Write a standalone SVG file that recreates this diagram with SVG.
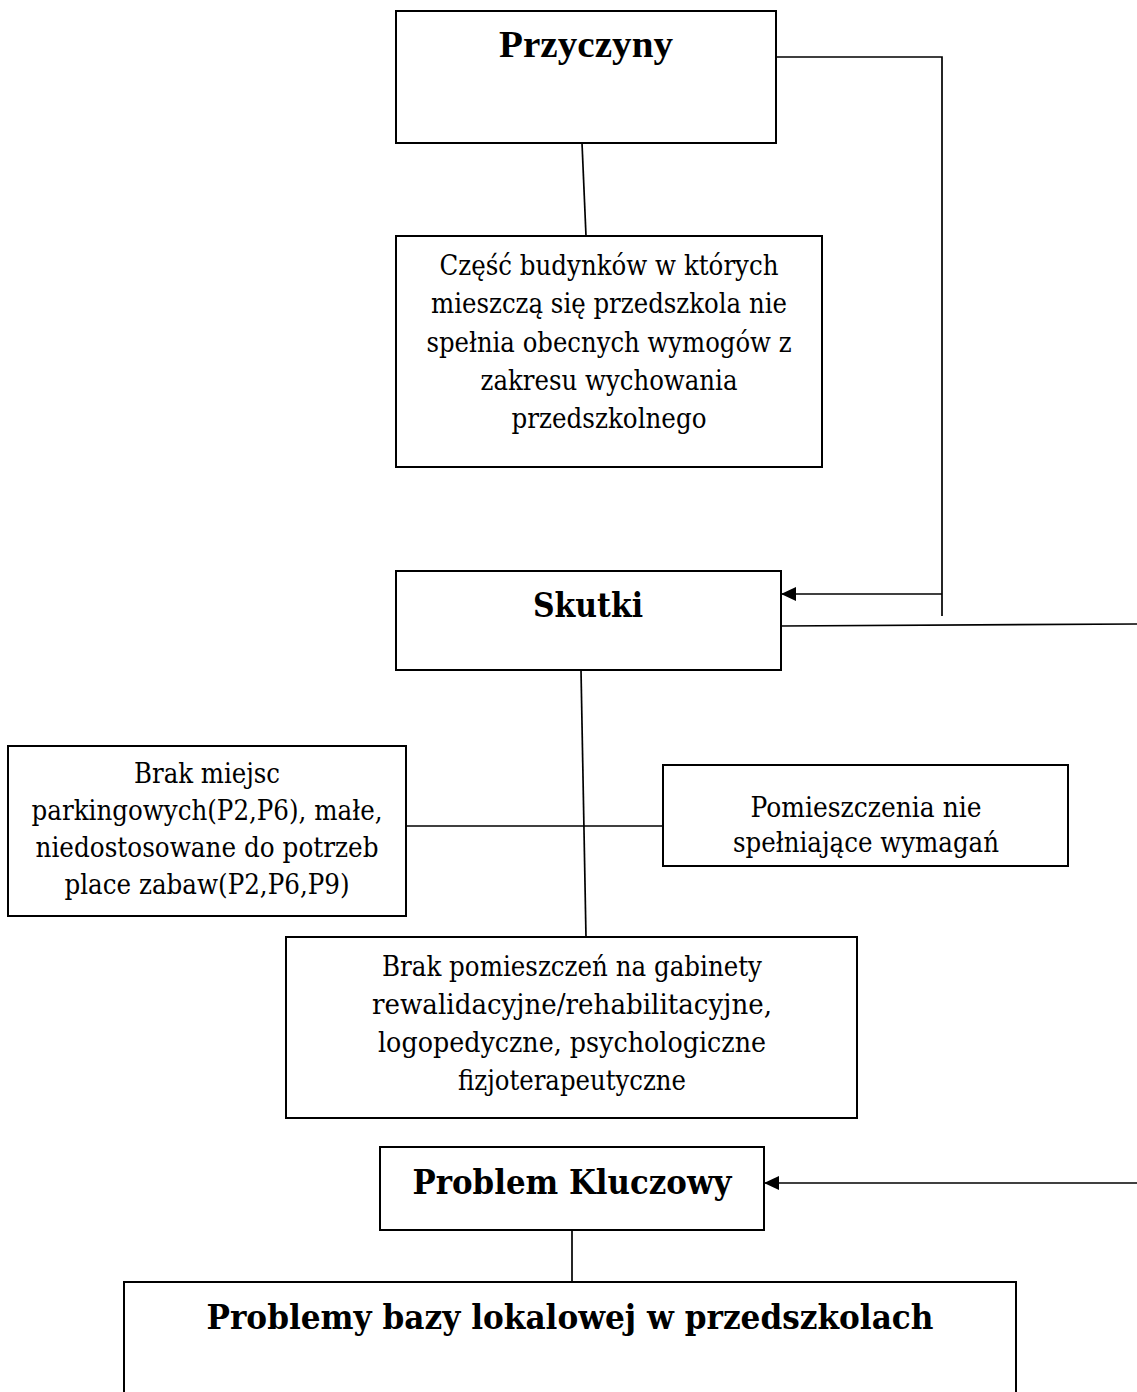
<svg xmlns="http://www.w3.org/2000/svg" width="1137" height="1392" viewBox="0 0 1137 1392">
<defs>
<style>
.box{fill:#fff;stroke:#000;stroke-width:2}
.ln{fill:none;stroke:#000;stroke-width:1.7}
.t{font-family:"DejaVu Serif","Liberation Serif",serif;font-size:27px;fill:#000;text-anchor:middle}
.h{font-family:"DejaVu Serif","Liberation Serif",serif;font-size:34px;font-weight:bold;fill:#000;text-anchor:middle}
.ht{font-family:"Liberation Serif","Times New Roman",serif;font-size:38px;font-weight:bold;fill:#000;text-anchor:middle}
</style>
<marker id="arr" viewBox="0 0 15 14" refX="15" refY="7" markerWidth="15" markerHeight="14" markerUnits="userSpaceOnUse" orient="auto">
<path d="M0,0 L15,7 L0,14 z" fill="#000"/>
</marker>
</defs>
<rect width="1137" height="1392" fill="#fff"/>

<g id="connectors">
<line class="ln" x1="582" y1="143" x2="586" y2="236"/>
<polyline class="ln" points="776,57 942,57 942,616"/>
<line class="ln" x1="942" y1="594" x2="781" y2="594" marker-end="url(#arr)"/>
<line class="ln" x1="781" y1="626" x2="1137" y2="624"/>
<line class="ln" x1="581" y1="670" x2="586" y2="937"/>
<line class="ln" x1="406" y1="826" x2="663" y2="826"/>
<line class="ln" x1="1137" y1="1183" x2="764" y2="1183" marker-end="url(#arr)"/>
<line class="ln" x1="572" y1="1230" x2="572" y2="1283"/>
</g>

<g id="przyczyny">
<rect class="box" x="396" y="11" width="380" height="132"/>
<text class="ht" x="586" y="57" textLength="174" lengthAdjust="spacingAndGlyphs">Przyczyny</text>
</g>

<g id="przyczyna-budynki">
<rect class="box" x="396" y="236" width="426" height="231"/>
<text class="t" x="609" y="275" textLength="339" lengthAdjust="spacingAndGlyphs">Część budynków w których</text>
<text class="t" x="609" y="313" textLength="356" lengthAdjust="spacingAndGlyphs">mieszczą się przedszkola nie</text>
<text class="t" x="609" y="352" textLength="365" lengthAdjust="spacingAndGlyphs">spełnia obecnych wymogów z</text>
<text class="t" x="609" y="390" textLength="257" lengthAdjust="spacingAndGlyphs">zakresu wychowania</text>
<text class="t" x="609" y="428" textLength="195" lengthAdjust="spacingAndGlyphs">przedszkolnego</text>
</g>

<g id="skutki">
<rect class="box" x="396" y="571" width="385" height="99"/>
<text class="h" x="588" y="617" textLength="110" lengthAdjust="spacingAndGlyphs">Skutki</text>
</g>

<g id="skutek-parkingi">
<rect class="box" x="8" y="746" width="398" height="170"/>
<text class="t" x="207" y="783" textLength="146" lengthAdjust="spacingAndGlyphs">Brak miejsc</text>
<text class="t" x="207" y="820" textLength="351" lengthAdjust="spacingAndGlyphs">parkingowych(P2,P6), małe,</text>
<text class="t" x="207" y="857" textLength="343" lengthAdjust="spacingAndGlyphs">niedostosowane do potrzeb</text>
<text class="t" x="207" y="894" textLength="285" lengthAdjust="spacingAndGlyphs">place zabaw(P2,P6,P9)</text>
</g>

<g id="skutek-pomieszczenia">
<rect class="box" x="663" y="765" width="405" height="101"/>
<text class="t" x="866" y="817" textLength="231" lengthAdjust="spacingAndGlyphs">Pomieszczenia nie</text>
<text class="t" x="866" y="852" textLength="266" lengthAdjust="spacingAndGlyphs">spełniające wymagań</text>
</g>

<g id="skutek-gabinety">
<rect class="box" x="286" y="937" width="571" height="181"/>
<text class="t" x="572" y="976" textLength="380" lengthAdjust="spacingAndGlyphs">Brak pomieszczeń na gabinety</text>
<text class="t" x="572" y="1014" textLength="400" lengthAdjust="spacingAndGlyphs">rewalidacyjne/rehabilitacyjne,</text>
<text class="t" x="572" y="1052" textLength="388" lengthAdjust="spacingAndGlyphs">logopedyczne, psychologiczne</text>
<text class="t" x="572" y="1090" textLength="228" lengthAdjust="spacingAndGlyphs">fizjoterapeutyczne</text>
</g>

<g id="problem-kluczowy">
<rect class="box" x="380" y="1147" width="384" height="83"/>
<text class="h" x="572" y="1194" textLength="319" lengthAdjust="spacingAndGlyphs">Problem Kluczowy</text>
</g>

<g id="problem">
<path class="box" d="M124,1393 L124,1282 L1016,1282 L1016,1393"/>
<text class="h" x="570" y="1329" textLength="727" lengthAdjust="spacingAndGlyphs">Problemy bazy lokalowej w przedszkolach</text>
</g>
</svg>
